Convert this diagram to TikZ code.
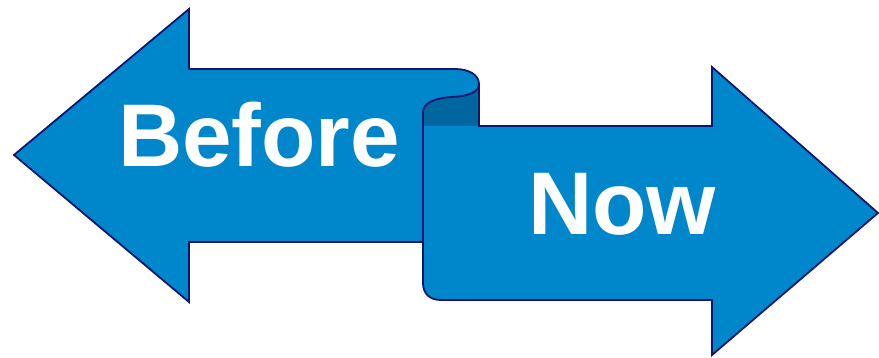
\documentclass[tikz,border=0pt]{standalone}
\usepackage{fontspec}
\setmainfont{Liberation Sans}
\usepackage{tikz}
\usetikzlibrary{calc}

\definecolor{arrowblue}{RGB}{0,134,202}
\definecolor{rollblue}{RGB}{0,102,160}
\definecolor{edgeblue}{RGB}{12,22,110}

\tikzset{
  arrowshape/.style={fill=arrowblue, draw=edgeblue, line width=1.8pt, line join=miter},
  arrowfill/.style={fill=arrowblue},
  rollshape/.style={fill=rollblue},
  outline/.style={draw=edgeblue, line width=1.8pt, line join=miter},
  bigword/.style={text=white, inner sep=0pt, anchor=base, font=\bfseries\fontsize{89}{89}\selectfont}
}

\begin{document}
\begin{tikzpicture}[x=1pt, y=-1pt]
			\useasboundingbox (0,0) rectangle (879,358);
			% left arrow (behind)
			\draw[arrowshape] (14,155) -- (189,9) -- (189,69) -- (455,69)
				.. controls (469,69) and (479,75) .. (479,84) -- (479,242)
				-- (189,242) -- (189,302) -- cycle;
			% inside of the roll
			\fill[rollshape] (479,84) .. controls (479,92) and (469,96) .. (452,97)
				.. controls (433,98) and (423,104) .. (423,112) -- (423,126) -- (479,126) -- cycle;
			% right arrow (front)
			\fill[arrowfill] (423,126) -- (423,283) .. controls (423,294) and (430,300) .. (441,300)
				-- (712,300) -- (712,355) -- (878,213) -- (712,67) -- (712,126) -- cycle;
			\draw[outline] (423,112) .. controls (423,104) and (433,98) .. (452,97)
				.. controls (469,96) and (479,92) .. (479,84) -- (479,126)
				-- (712,126) -- (712,67) -- (878,213) -- (712,355) -- (712,300) -- (441,300)
				.. controls (430,300) and (423,294) .. (423,283) -- cycle;
			\node[bigword] (before) at (259,167) {Before};
			\node[bigword] (now) at (622,235) {Now};
		\end{tikzpicture}
\end{document}
